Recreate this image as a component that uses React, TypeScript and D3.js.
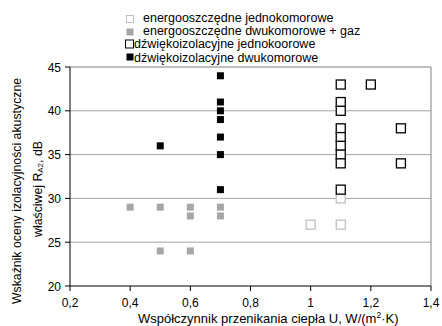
import React from 'react';
import * as d3 from 'd3';

// energooszczędne jednokomorowe
const energoJednoX = [1.0, 1.1, 1.1];
const energoJednoY = [27, 27, 30];
// energooszczędne dwukomorowe + gaz
const energoDwuX = [0.4, 0.5, 0.5, 0.6, 0.6, 0.6, 0.7, 0.7];
const energoDwuY = [29, 29, 24, 29, 28, 24, 29, 28];
// dźwiękoizolacyjne jednokoorowe
const dzwiekJednoX = [1.1, 1.1, 1.1, 1.1, 1.1, 1.1, 1.1, 1.1, 1.1, 1.2, 1.3, 1.3];
const dzwiekJednoY = [43, 41, 40, 38, 37, 36, 35, 34, 31, 43, 38, 34];
// dźwiękoizolacyjne dwukomorowe
const dzwiekDwuX = [0.5, 0.7, 0.7, 0.7, 0.7, 0.7, 0.7, 0.7];
const dzwiekDwuY = [36, 44, 41, 40, 39, 37, 35, 31];

const xTicks = [0.2, 0.4, 0.6, 0.8, 1.0, 1.2, 1.4];
const yTicks = [20, 25, 30, 35, 40, 45];

const legendLabels = [
  'energooszczędne jednokomorowe',
  'energooszczędne dwukomorowe + gaz',
  'dźwiękoizolacyjne jednokoorowe',
  'dźwiękoizolacyjne dwukomorowe',
];

const font = 'Liberation Sans, Arial, sans-serif';

export default function App() {
  const width = 442;
  const height = 326;
  const left = 70, right = 431, top = 67, bottom = 286;

  const x = d3.scaleLinear().domain([0.2, 1.4]).range([left, right]);
  const y = d3.scaleLinear().domain([20, 45]).range([bottom, top]);
  const fmt = (v: number) => (v === 1 ? '1' : d3.format('.1f')(v).replace('.', ','));

  const series = [
    { xs: energoJednoX, ys: energoJednoY, size: 9, fill: 'white', stroke: '#c0c0c0' },
    { xs: energoDwuX, ys: energoDwuY, size: 7, fill: '#a6a6a6', stroke: 'none' },
    { xs: dzwiekJednoX, ys: dzwiekJednoY, size: 9, fill: 'white', stroke: '#000' },
    { xs: dzwiekDwuX, ys: dzwiekDwuY, size: 7, fill: '#000', stroke: 'none' },
  ];

  const legend = [
    { mx: 130, my: 19, tx: 143, ty: 22, size: 7 },
    { mx: 130, my: 32, tx: 143, ty: 35, size: 7 },
    { mx: 129.5, my: 44, tx: 134, ty: 48, size: 8 },
    { mx: 130, my: 57, tx: 134, ty: 61.5, size: 7 },
  ];

  return (
    <svg width={width} height={height} style={{ position: 'absolute', left: 0, top: 0 }} fontFamily={font}>
      <rect width={width} height={height} fill="white" />
      {/* gridlines */}
      {yTicks.slice(1, -1).map(t => (
        <line key={t} x1={left} x2={right} y1={y(t)} y2={y(t)} stroke="#a6a6a6" strokeWidth={1} />
      ))}
      {/* frame */}
      <line x1={left} x2={right} y1={top} y2={top} stroke="#808080" />
      <line x1={right} x2={right} y1={top} y2={bottom} stroke="#808080" />
      {/* axes */}
      <line x1={left} x2={left} y1={top} y2={bottom} stroke="#000" />
      <line x1={left} x2={right} y1={bottom} y2={bottom} stroke="#000" />
      {yTicks.map(t => (
        <g key={t}>
          <line x1={left - 5} x2={left} y1={y(t)} y2={y(t)} stroke="#000" />
          <text x={left - 9} y={y(t) + 4.5} textAnchor="end" fontSize={12}>{t}</text>
        </g>
      ))}
      {xTicks.map(t => (
        <g key={t}>
          <line x1={x(t)} x2={x(t)} y1={bottom} y2={bottom + 5} stroke="#000" />
          <text x={x(t)} y={bottom + 20.5} textAnchor="middle" fontSize={12}>{fmt(t)}</text>
        </g>
      ))}
      {/* axis titles */}
      <text x={138} y={323} fontSize={13}>
        Współczynnik przenikania ciepła U, W/(m<tspan dy={-5} fontSize={8.5}>2</tspan>
        <tspan dy={5}>·K)</tspan>
      </text>
      <text transform="translate(20.5,191) rotate(-90)" textAnchor="middle" fontSize={12.3}>
        Wskaźnik oceny izolacyjności akustyczne
      </text>
      <text transform="translate(42,189) rotate(-90)" textAnchor="middle" fontSize={12.3}>
        właściwej R<tspan fontSize={8} dy={1}>A2</tspan><tspan dy={-1}>, dB</tspan>
      </text>
      {/* points */}
      {series.map((s, si) =>
        s.xs.map((xv, i) => (
          <rect
            key={`${si}-${i}`}
            x={x(xv) - s.size / 2}
            y={y(s.ys[i]) - s.size / 2}
            width={s.size}
            height={s.size}
            fill={s.fill}
            stroke={s.stroke}
            strokeWidth={1.3}
          />
        ))
      )}
      {/* legend */}
      {legend.map((l, i) => (
        <g key={i}>
          <rect
            x={l.mx - l.size / 2}
            y={l.my - l.size / 2}
            width={l.size}
            height={l.size}
            fill={series[i].fill}
            stroke={series[i].stroke}
            strokeWidth={1}
          />
          <text x={l.tx} y={l.ty} fontSize={12.5}>{legendLabels[i]}</text>
        </g>
      ))}
    </svg>
  );
}
